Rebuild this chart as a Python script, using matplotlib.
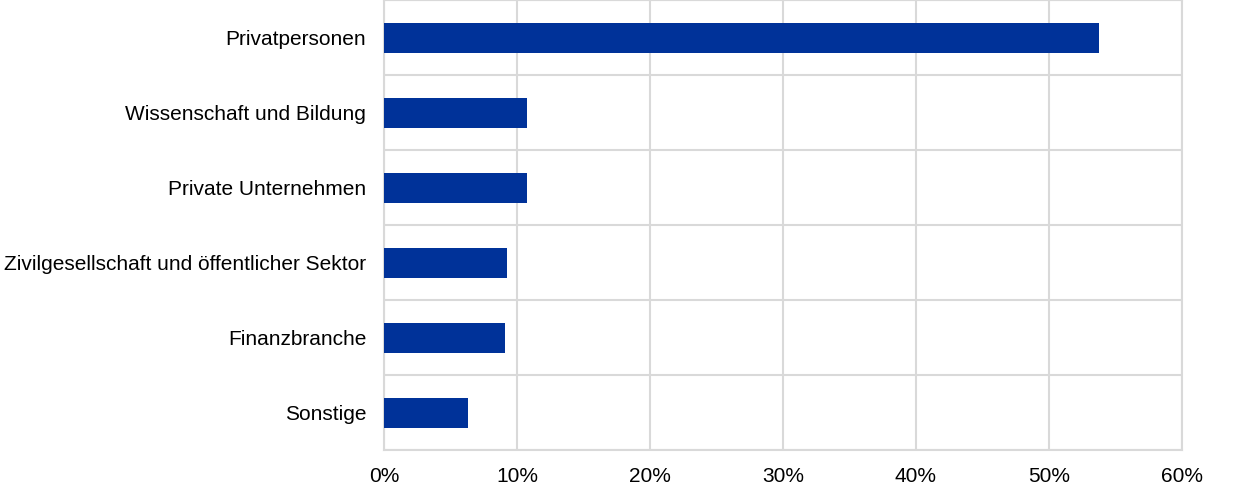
import matplotlib
matplotlib.use("Agg")
import matplotlib.pyplot as plt
import numpy as np
from matplotlib.ticker import FuncFormatter, FixedLocator

categories = ["Privatpersonen", "Wissenschaft und Bildung", "Private Unternehmen",
              "Zivilgesellschaft und öffentlicher Sektor", "Finanzbranche", "Sonstige"]
values = [53.8, 10.75, 10.75, 9.2, 9.05, 6.3]
xticks = [0, 10, 20, 30, 40, 50, 60]

plt.rcParams['font.family'] = ['Liberation Sans', 'DejaVu Sans']

fig = plt.figure(figsize=(12.4, 4.91), dpi=100)
ax = fig.add_axes([0.310, 0.0835, 0.643, 0.9155])

y = np.arange(len(categories))
ax.barh(y, values, height=0.4, color="#003299", zorder=3)
ax.set_ylim(len(categories) - 0.5, -0.5)
ax.set_xlim(0, 60)
ax.set_yticks(y)
ax.set_yticklabels(categories, fontsize=15, color="#000000")
ax.yaxis.set_minor_locator(FixedLocator(np.arange(-0.5, len(categories), 1.0)))
ax.set_xticks(xticks)
ax.xaxis.set_major_formatter(FuncFormatter(lambda v, p: f"{int(v)}%"))
ax.tick_params(axis='x', labelsize=15, length=0, pad=12)
ax.tick_params(axis='y', which='both', length=0, pad=13)
ax.grid(axis='x', which='major', color="#d9d9d9", linewidth=1.5, zorder=0)
ax.grid(axis='y', which='minor', color="#d9d9d9", linewidth=1.5, zorder=0)
for s in ax.spines.values():
    s.set_color("#d9d9d9")
    s.set_linewidth(1.5)

fig.savefig("out.png", dpi=100)
